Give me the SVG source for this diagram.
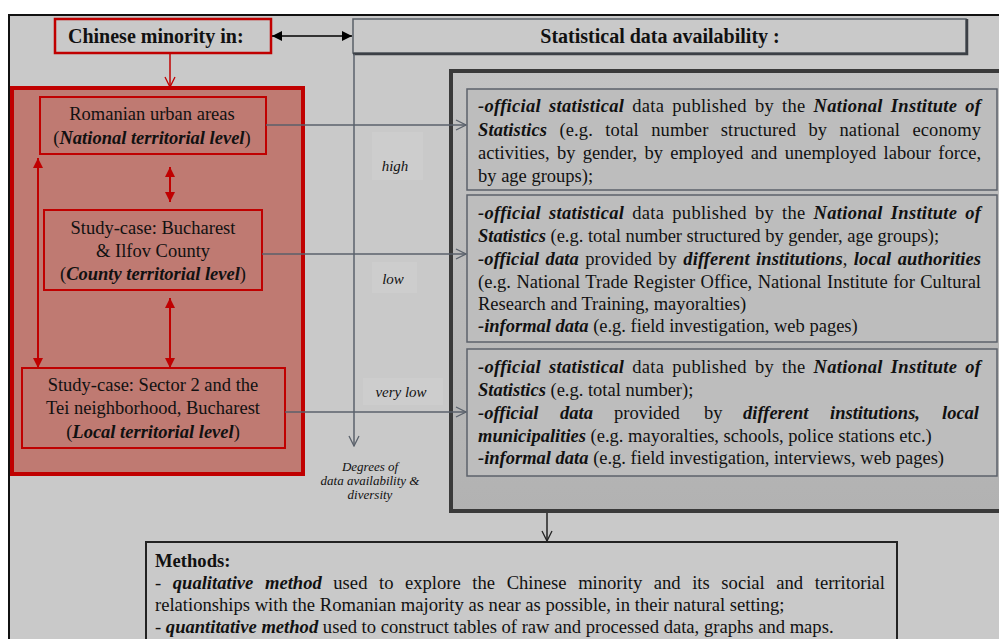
<svg xmlns="http://www.w3.org/2000/svg" width="999" height="639" viewBox="0 0 999 639">
<defs>
<linearGradient id="bigGrad" x1="0" y1="0" x2="0" y2="1"><stop offset="0" stop-color="#c3c3c3"/><stop offset="1" stop-color="#b2b2b2"/></linearGradient>
<marker id="redFill" viewBox="0 0 10 10" refX="10" refY="5" markerWidth="11" markerHeight="10" markerUnits="userSpaceOnUse" orient="auto-start-reverse"><path d="M0,0 L10,5 L0,10 z" fill="#c00000"/></marker>
<marker id="redOpen" viewBox="0 0 12 12" refX="11" refY="6" markerWidth="12" markerHeight="12" markerUnits="userSpaceOnUse" orient="auto"><path d="M1,1 L11,6 L1,11" fill="none" stroke="#c00000" stroke-width="1.3"/></marker>
<marker id="blackFill" viewBox="0 0 10 10" refX="10" refY="5" markerWidth="11" markerHeight="10" markerUnits="userSpaceOnUse" orient="auto-start-reverse"><path d="M0,0 L10,5 L0,10 z" fill="#000"/></marker>
<marker id="grayOpen" viewBox="0 0 12 12" refX="11" refY="6" markerWidth="12" markerHeight="12" markerUnits="userSpaceOnUse" orient="auto"><path d="M1,1 L11,6 L1,11" fill="none" stroke="#5a616b" stroke-width="1.3"/></marker>
<marker id="darkOpen" viewBox="0 0 12 12" refX="11" refY="6" markerWidth="12" markerHeight="12" markerUnits="userSpaceOnUse" orient="auto"><path d="M1,1 L11,6 L1,11" fill="none" stroke="#222" stroke-width="1.3"/></marker>
</defs>
<style>
.t{font-family:"Liberation Serif","Times New Roman",serif;fill:#111;font-size:18.5px;}
.m{font-size:18.6px;}
.c{text-anchor:middle;}
.bi{font-weight:bold;font-style:italic;}
.b{font-weight:bold;}
.lbl{font-family:"Liberation Serif","Times New Roman",serif;font-style:italic;fill:#111;text-anchor:middle;}
.redbox{fill:none;stroke:#c00000;stroke-width:2;}
.inbox{fill:#bdbdbd;stroke:#5c626b;stroke-width:1.5;}
.gray{stroke:#5a616b;stroke-width:1.5;fill:none;}
</style>
<rect x="0" y="0" width="999" height="639" fill="#ffffff"/>
<rect x="9" y="15" width="1000" height="640" fill="#c9c9c9" stroke="#111" stroke-width="2"/>

<g id="chinese-minority">
<rect x="55" y="19" width="216" height="34" fill="#c9c9c9" stroke="#c00000" stroke-width="2.5"/>
<text class="t b" x="68" y="43" style="font-size:20px">Chinese minority in:</text>
</g>

<g id="stat-availability">
<rect x="353" y="19" width="613" height="34" fill="#c9c9c9" stroke="#5a6068" stroke-width="1.5"/>
<path d="M967,19 V54 H353" fill="none" stroke="#3c4046" stroke-width="2.5"/>
<text class="t b c" x="660" y="43" style="font-size:20px">Statistical data availability :</text>
</g>

<g id="territorial-panel">
<rect x="12" y="88" width="291" height="386" fill="#bf7a72" stroke="#c00000" stroke-width="4"/>
</g>

<g id="national-level">
<rect class="redbox" x="40" y="97" width="226" height="57"/>
<text class="t c" x="152" y="120">Romanian urban areas</text>
<text class="t c" x="152" y="144">(<tspan class="bi">National territorial level</tspan>)</text>
</g>

<g id="county-level">
<rect class="redbox" x="44" y="210" width="218" height="80"/>
<text class="t c" x="153" y="234">Study-case: Bucharest</text>
<text class="t c" x="153" y="257">&amp; Ilfov County</text>
<text class="t c" x="153" y="280">(<tspan class="bi">County  territorial level</tspan>)</text>
</g>

<g id="local-level">
<rect class="redbox" x="22" y="368" width="263" height="80"/>
<text class="t c" x="153" y="391">Study-case: Sector 2 and the</text>
<text class="t c" x="153" y="414">Tei neighborhood, Bucharest</text>
<text class="t c" x="153" y="438">(<tspan class="bi">Local territorial level</tspan>)</text>
</g>

<g id="data-panel">
<rect x="451" y="71" width="560" height="440" fill="url(#bigGrad)" stroke="#3a3a3a" stroke-width="4"/>
</g>

<g id="data-high">
<rect class="inbox" x="467" y="89" width="530" height="101"/>
<text class="t" x="478" y="112" style="word-spacing:3.1px" textLength="503" lengthAdjust="spacing"><tspan class="bi">-official statistical</tspan> data published by the <tspan class="bi">National Institute of</tspan></text>
<text class="t" x="478" y="136" style="word-spacing:7.6px" textLength="503" lengthAdjust="spacing"><tspan class="bi">Statistics</tspan> (e.g. total number structured by national economy</text>
<text class="t" x="478" y="159" style="word-spacing:2.7px" textLength="503" lengthAdjust="spacing">activities, by gender, by employed and unemployed labour force,</text>
<text class="t" x="478" y="182">by age groups);</text>
</g>

<g id="data-low">
<rect class="inbox" x="467" y="195" width="530" height="147"/>
<text class="t" x="478" y="219" style="word-spacing:3.1px" textLength="503" lengthAdjust="spacing"><tspan class="bi">-official statistical</tspan> data published by the <tspan class="bi">National Institute of</tspan></text>
<text class="t" x="478" y="242"><tspan class="bi">Statistics</tspan> (e.g. total number structured by gender, age groups);</text>
<text class="t" x="478" y="265" style="word-spacing:1.6px" textLength="503" lengthAdjust="spacing"><tspan class="bi">-official data</tspan> provided by <tspan class="bi">different institutions</tspan>, <tspan class="bi">local authorities</tspan></text>
<text class="t" x="478" y="288" style="word-spacing:0.8px" textLength="503" lengthAdjust="spacing">(e.g. National Trade Register Office, National Institute for Cultural</text>
<text class="t" x="478" y="310">Research and Training, mayoralties)</text>
<text class="t" x="478" y="332"><tspan class="bi">-informal data</tspan> (e.g. field investigation, web pages)</text>
</g>

<g id="data-very-low">
<rect class="inbox" x="467" y="349" width="530" height="127"/>
<text class="t" x="478" y="373" style="word-spacing:3.1px" textLength="503" lengthAdjust="spacing"><tspan class="bi">-official statistical</tspan> data published by the <tspan class="bi">National Institute of</tspan></text>
<text class="t" x="478" y="396"><tspan class="bi">Statistics</tspan> (e.g. total number);</text>
<text class="t" y="419"><tspan class="bi" x="478">-official</tspan><tspan class="bi" x="560">data</tspan><tspan x="614">provided</tspan><tspan x="704">by</tspan><tspan class="bi" x="743">different</tspan><tspan class="bi" x="830">institutions,</tspan><tspan class="bi" x="942">local</tspan></text>
<text class="t" x="478" y="442"><tspan class="bi">municipalities</tspan> (e.g. mayoralties, schools, police stations etc.)</text>
<text class="t" x="478" y="464"><tspan class="bi">-informal data</tspan> (e.g. field investigation, interviews, web pages)</text>
</g>

<g id="methods">
<rect x="146" y="542" width="751" height="110" fill="#c9c9c9" stroke="#222" stroke-width="2"/>
<text class="t m b" x="155" y="567">Methods:</text>
<text class="t m" x="155" y="589" style="word-spacing:6.9px" textLength="730" lengthAdjust="spacing">- <tspan class="bi">qualitative method</tspan> used to explore the Chinese minority and its social and territorial</text>
<text class="t m" x="155" y="611">relationships with the Romanian majority as near as possible, in their natural setting;</text>
<text class="t m" x="155" y="633">- <tspan class="bi">quantitative method</tspan> used to construct tables of raw and processed data, graphs and maps.</text>
</g>

<g id="axis-labels">
<rect x="372" y="132" width="51" height="48" fill="#cdcdcd"/>
<rect x="372" y="262" width="45" height="31" fill="#cdcdcd"/>
<rect x="363" y="378" width="80" height="27" fill="#cdcdcd"/>
<text class="lbl" x="395" y="171" style="font-size:15px">high</text>
<text class="lbl" x="393" y="284" style="font-size:15px">low</text>
<text class="lbl" x="401" y="397" style="font-size:15px">very low</text>
<text class="lbl" x="370" y="471" style="font-size:13px">Degrees of</text>
<text class="lbl" x="370" y="485" style="font-size:13px">data availability &amp;</text>
<text class="lbl" x="370" y="499" style="font-size:13px">diversity</text>
</g>

<g id="connectors">
<line x1="272" y1="36" x2="352" y2="36" stroke="#000" stroke-width="1.5" marker-start="url(#blackFill)" marker-end="url(#blackFill)"/>
<line x1="170" y1="53" x2="170" y2="87" stroke="#c00000" stroke-width="1.5" marker-end="url(#redOpen)"/>
<line x1="170" y1="167" x2="170" y2="202" stroke="#c00000" stroke-width="2" marker-start="url(#redFill)" marker-end="url(#redFill)"/>
<line x1="170" y1="298" x2="170" y2="368" stroke="#c00000" stroke-width="2" marker-start="url(#redFill)" marker-end="url(#redFill)"/>
<line x1="38" y1="158" x2="38" y2="368" stroke="#c00000" stroke-width="2" marker-start="url(#redFill)" marker-end="url(#redFill)"/>
<line class="gray" x1="354" y1="54" x2="354" y2="446" marker-end="url(#grayOpen)"/>
<line class="gray" x1="266" y1="125" x2="466" y2="125" marker-end="url(#grayOpen)"/>
<line class="gray" x1="262" y1="254" x2="466" y2="254" marker-end="url(#grayOpen)"/>
<line class="gray" x1="285" y1="412" x2="466" y2="412" marker-end="url(#grayOpen)"/>
<line x1="547" y1="513" x2="547" y2="541" stroke="#222" stroke-width="1.5" marker-end="url(#darkOpen)"/>
</g>
</svg>
